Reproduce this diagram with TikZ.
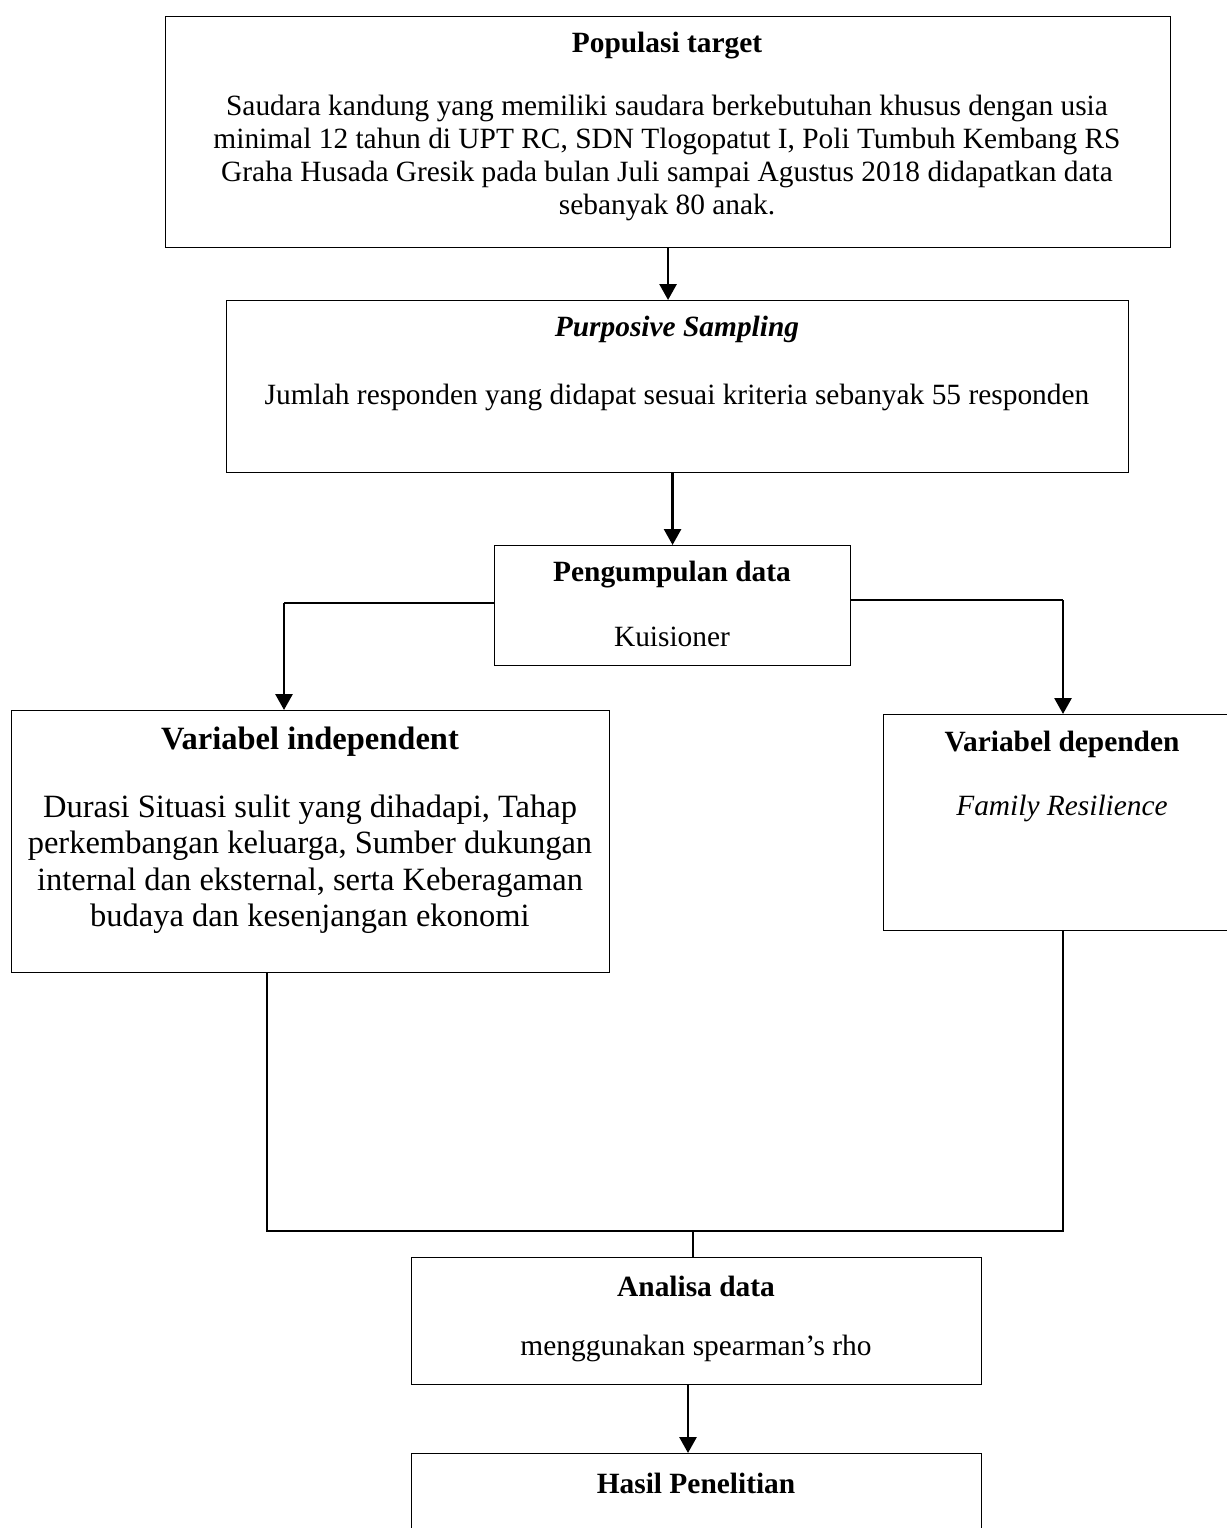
\documentclass[tikz,border=0pt]{standalone}
\usepackage{fontspec}
\setmainfont{Liberation Serif}
\usetikzlibrary{arrows.meta,positioning,calc}
\tikzset{
  kotak/.style={rectangle, draw=black, line width=1.1pt, anchor=north west, inner sep=0pt},
  judul/.style={font=\fontsize{29.4}{33}\selectfont\bfseries, inner sep=0pt},
  isi/.style={font=\fontsize{29.4}{33}\selectfont, align=center, inner sep=0pt},
  judulbesar/.style={font=\fontsize{32.5}{38}\selectfont\bfseries, inner sep=0pt},
  isibesar/.style={font=\fontsize{32.5}{36.5}\selectfont, align=center, inner sep=0pt},
  panah/.style={-{Triangle[length=16pt,width=17pt]}, line width=2.8pt},
  garis/.style={line width=1.4pt},
}

\begin{document}
\begin{tikzpicture}[x=1pt, y=-1pt]
    \useasboundingbox (0,0) rectangle (1226,1528);
    % kotak-kotak
    \node[kotak, minimum width=1005, minimum height=231] (populasi) at (165,16) {};
    \node[judul] (populasiT) at (667,46) {Populasi target};
    \node[isi] (populasiI) at (667,158) {Saudara kandung yang memiliki saudara berkebutuhan khusus dengan usia\\
      minimal 12 tahun di UPT RC, SDN Tlogopatut I, Poli Tumbuh Kembang RS\\
      Graha Husada Gresik pada bulan Juli sampai Agustus 2018 didapatkan data\\
      sebanyak 80 anak.};
    \node[kotak, minimum width=902, minimum height=172] (purposive) at (226,300) {};
    \node[judul, font=\fontsize{29.4}{33}\selectfont\bfseries\itshape] (purposiveT) at (677,329) {Purposive Sampling};
    \node[isi] (purposiveI) at (677,397) {Jumlah responden yang didapat sesuai kriteria sebanyak 55 responden};
    \node[kotak, minimum width=356, minimum height=120] (kumpul) at (494,545) {};
    \node[judul] (kumpulT) at (672,575) {Pengumpulan data};
    \node[isi] (kumpulI) at (672,637) {Kuisioner};
    \node[kotak, minimum width=598, minimum height=262] (indep) at (11,710) {};
    \node[judulbesar] (indepT) at (310,742) {Variabel independent};
    \node[isibesar] (indepI) at (310,864) {Durasi Situasi sulit yang dihadapi, Tahap\\
      perkembangan keluarga, Sumber dukungan\\
      internal dan eksternal, serta Keberagaman\\
      budaya dan kesenjangan ekonomi};
    \node[kotak, minimum width=358, minimum height=216] (dep) at (883,714) {};
    \node[judul] (depT) at (1062,744) {Variabel dependen};
    \node[isi, font=\fontsize{29.4}{33}\selectfont\itshape] (depI) at (1062,808) {Family Resilience};
    \node[kotak, minimum width=570, minimum height=127] (analisa) at (411,1257) {};
    \node[judul] (analisaT) at (696,1286) {Analisa data};
    \node[isi] (analisaI) at (696,1348) {menggunakan spearman’s rho};
    \node[kotak, minimum width=570, minimum height=120] (hasil) at (411,1453) {};
    \node[judul] (hasilT) at (696,1483) {Hasil Penelitian};
    % titik siku
    \coordinate (sikuKiri) at (284,603);
    \coordinate (sikuKanan) at (1063,600);
    \coordinate (gabKiri) at (267,1231);
    \coordinate (gabKanan) at (1063,1231);
    \coordinate (gabTengah) at (693,1231);
    % panah
    \draw[panah] (populasi.south) -- (populasi.south |- purposive.north);
    \draw[panah] (kumpul.north |- purposive.south) -- (kumpul.north);
    \draw[garis] (kumpul.west |- sikuKiri) -- (sikuKiri);
    \draw[panah] (sikuKiri) -- (sikuKiri |- indep.north);
    \draw[garis] (kumpul.east |- sikuKanan) -- (sikuKanan);
    \draw[panah] (sikuKanan) -- (sikuKanan |- dep.north);
    \draw[garis] (gabKiri |- indep.south) -- (gabKiri) -- (gabKanan) -- (gabKanan |- dep.south);
    \draw[line width=2.4pt] (gabTengah) -- (gabTengah |- analisa.north);
    \draw[panah] (analisa.south -| 688,0) -- (hasil.north -| 688,0);
\end{tikzpicture}
\end{document}
